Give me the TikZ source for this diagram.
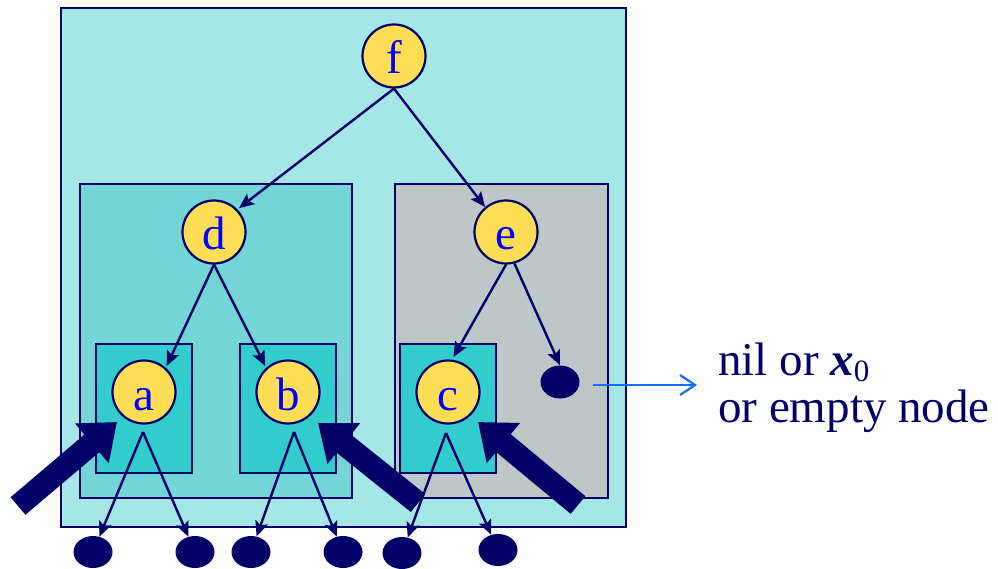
\documentclass[tikz,border=0pt]{standalone}
\usepackage{fontspec}
\setmainfont{Liberation Serif}
\usetikzlibrary{arrows.meta,shapes.geometric}

\definecolor{navy}{RGB}{0,0,102}
\definecolor{nodeyellow}{RGB}{255,221,85}
\definecolor{letterblue}{RGB}{0,0,255}
\definecolor{boxcyan}{RGB}{51,204,204}
\definecolor{outerfill}{RGB}{165,230,230}
\definecolor{leftfill}{RGB}{115,213,213}
\definecolor{rightfill}{RGB}{190,198,200}
\definecolor{pointerblue}{RGB}{20,110,255}

\tikzset{
  treenode/.style={circle, draw=navy, line width=2.2pt, fill=nodeyellow,
    minimum size=63pt, inner sep=0pt, text height=36pt, text depth=0pt,
    font=\fontsize{47}{47}\selectfont, text=letterblue},
  leaf/.style={ellipse, fill=navy, minimum width=39pt, minimum height=32pt, inner sep=0pt},
  subtree/.style={draw=navy, line width=2.2pt},
  edge/.style={draw=navy, line width=2.4pt, -{Stealth[length=15pt,width=13pt,inset=3pt]}},
  bigarrow/.style={draw=navy, line width=23pt, -{Triangle[length=33pt,width=50pt]}},
  pointer/.style={draw=pointerblue, line width=2.2pt, -{Straight Barb[length=15pt,width=20pt,line width=2.2pt]}},
  note/.style={anchor=base west, inner sep=0pt, text=navy, font=\fontsize{47}{47}\selectfont}
}

\begin{document}
\begin{tikzpicture}[x=1pt, y=-1pt]
  \useasboundingbox (0,0) rectangle (998,569);

  % nested subtrees
  \path[subtree, fill=outerfill] (61,8) rectangle (626,527);
  \path[subtree, fill=leftfill]  (80,184) rectangle (352,498);
  \path[subtree, fill=rightfill] (395,184) rectangle (608,498);
  \path[subtree, fill=boxcyan] (96,344) rectangle (192,473);
  \path[subtree, fill=boxcyan] (240,344) rectangle (336,473);
  \path[subtree, fill=boxcyan] (400,344) rectangle (496,473);

  % tree nodes
  \node[treenode] (f) at (394,56) {f};
  \node[treenode] (d) at (214,232) {d};
  \node[treenode] (e) at (506,232) {e};
  \node[treenode] (a) at (144,392) {a};
  \node[treenode] (b) at (288,392) {b};
  \node[treenode] (c) at (448,392) {c};

  % leaves
  \node[leaf] (a1) at (93,552) {};
  \node[leaf] (a2) at (195,552) {};
  \node[leaf] (b1) at (251,552) {};
  \node[leaf] (b2) at (343,552) {};
  \node[leaf] (c1) at (402,553) {};
  \node[leaf] (c2) at (498,550) {};
  \node[leaf, minimum height=33pt] (nil) at (560,382) {};

  % points where the leaf edges fork
  \coordinate (ao) at (143,432);
  \coordinate (bo) at (294,432);
  \coordinate (co) at (446,433);

  % tree edges
  \draw[edge, shorten >=2pt] (f.south) -- (d.44);
  \draw[edge] (f.south) -- (e.130);
  \draw[edge, shorten >=2pt] (d.south) -- (a.48);
  \draw[edge, shorten >=2pt] (d.south) -- (b.132);
  \draw[edge, shorten >=3pt] (e.south) -- (c.83);
  \draw[edge] (e.-75) -- (nil.north);
  \draw[edge] (ao) -- (a1);
  \draw[edge] (ao) -- (a2);
  \draw[edge] (bo) -- (b1);
  \draw[edge] (bo) -- (b2);
  \draw[edge] (co) -- (c1);
  \draw[edge] (co) -- (c2);

  % heavy arrows into the subtree roots
  \coordinate (ta) at (18,506);  \coordinate (pa) at (117,422);
  \coordinate (tb) at (418,503); \coordinate (pb) at (318,423);
  \coordinate (tc) at (578,505); \coordinate (pc) at (478,422);
  \draw[bigarrow] (ta) -- (pa);
  \draw[bigarrow] (tb) -- (pb);
  \draw[bigarrow] (tc) -- (pc);

  % explanation of the empty leaf
  \node[note] (note1) at (718,375) {nil or \textbf{\textit{x}}\raisebox{-6pt}{\fontsize{31}{31}\selectfont 0}};
  \node[note] (note2) at (718,422) {or empty node};
  \coordinate (pt) at (697,385);
  \draw[pointer, shorten <=13pt] ([yshift=-3pt]nil.east) -- (pt);
\end{tikzpicture}
\end{document}
